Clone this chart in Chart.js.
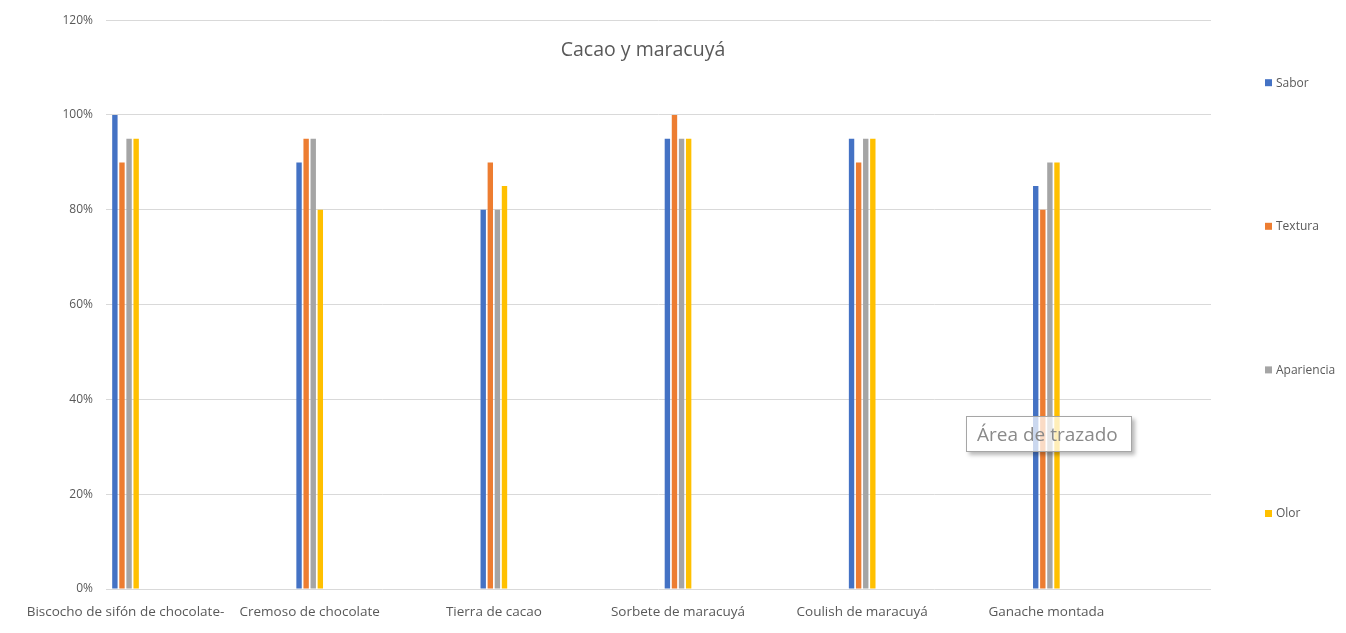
<!DOCTYPE html>
<html>
<head>
<meta charset="utf-8">
<script src="https://cdn.jsdelivr.net/npm/chart.js@4/dist/chart.umd.min.js"></script>
<style>
  html, body { margin: 0; padding: 0; background: #fff; }
  #wrap { position: relative; width: 1346px; height: 633px; }
  #tip {
    position: absolute; left: 966px; top: 416px; width: 154px; height: 34px;
    border: 1px solid #a6a6a6; background: rgba(255,255,255,0.72);
    box-shadow: 3px 3px 4px rgba(0,0,0,0.28);
    font-family: "Open Sans", sans-serif; font-size: 19px; color: #8a8a8a;
    line-height: 34px; padding-left: 10px; box-sizing: content-box; white-space: nowrap;
  }
</style>
</head>
<body>
<div id="wrap">
  <canvas id="c" width="1346" height="633"></canvas>
  <div id="tip">Área de trazado</div>
</div>
<script>
const chartTitle = "Cacao y maracuyá";
const categories = [
  "Biscocho de sifón de chocolate-",
  "Cremoso de chocolate",
  "Tierra de cacao",
  "Sorbete de maracuyá",
  "Coulish de maracuyá",
  "Ganache montada"
];
const seriesNames = ["Sabor", "Textura", "Apariencia", "Olor"];
const sabor      = [1.00, 0.90, 0.80, 0.95, 0.95, 0.85];
const textura    = [0.90, 0.95, 0.90, 1.00, 0.90, 0.80];
const apariencia = [0.95, 0.95, 0.80, 0.95, 0.95, 0.90];
const olor       = [0.95, 0.80, 0.85, 0.95, 0.95, 0.90];
const yTicks = [0, 0.2, 0.4, 0.6, 0.8, 1.0, 1.2];
const colors = ["#4472C4", "#ED7D31", "#A5A5A5", "#FFC000"];

const seriesValues = [sabor, textura, apariencia, olor];
const datasets = seriesNames.map((name, s) => ({
  label: name,
  data: seriesValues[s].map((v, i) => ({ x: i, y: v })),
  backgroundColor: colors[s],
  borderWidth: 0,
  categoryPercentage: 0.154,
  barPercentage: 0.76
}));

const FONT = "'Open Sans', 'DejaVu Sans', sans-serif";

const overlayPlugin = {
  id: 'overlay',
  afterDraw(chart) {
    const ctx = chart.ctx;
    const area = chart.chartArea;
    ctx.save();
    ctx.fillStyle = '#595959';
    ctx.font = "19.5px " + FONT;
    ctx.textAlign = 'center';
    ctx.textBaseline = 'middle';
    ctx.fillText(chartTitle, 643, 50);
    ctx.font = "12px " + FONT;
    ctx.textAlign = 'left';
    const step = (area.bottom - area.top - 63 - 75) / 3;
    chart.data.datasets.forEach((ds, i) => {
      const y = area.top + 63 + i * step;
      ctx.fillStyle = ds.backgroundColor;
      ctx.fillRect(1265, y - 4, 7, 7);
      ctx.fillStyle = '#595959';
      ctx.fillText(ds.label, 1276, y);
    });
    ctx.restore();
  }
};

new Chart(document.getElementById('c'), {
  type: 'bar',
  data: { datasets },
  options: {
    responsive: false,
    animation: false,
    events: [],
    layout: { padding: { top: 20, right: 135, left: 0, bottom: 0 } },
    plugins: {
      legend: { display: false },
      title: { display: false },
      tooltip: { enabled: false }
    },
    scales: {
      x: {
        type: 'linear',
        offset: false,
        min: -0.106,
        max: 5.894,
        grid: { display: false, drawTicks: false },
        border: { display: false },
        afterBuildTicks: axis => { axis.ticks = categories.map((c, i) => ({ value: i })); },
        afterFit: axis => { axis.height = 44; },
        ticks: {
          autoSkip: false,
          maxRotation: 0,
          minRotation: 0,
          padding: 15,
          color: '#595959',
          font: { family: FONT, size: 13.5 },
          callback: v => categories[v]
        }
      },
      y: {
        min: 0,
        max: 1.2,
        grid: { color: '#d9d9d9', lineWidth: 1, drawTicks: false },
        border: { display: false },
        afterBuildTicks: axis => { axis.ticks = yTicks.map(v => ({ value: v })); },
        afterFit: axis => { axis.width = 106; },
        ticks: {
          padding: 13,
          color: '#595959',
          font: { family: FONT, size: 12 },
          callback: v => Math.round(v * 100) + '%'
        }
      }
    }
  },
  plugins: [overlayPlugin]
});
</script>
</body>
</html>
